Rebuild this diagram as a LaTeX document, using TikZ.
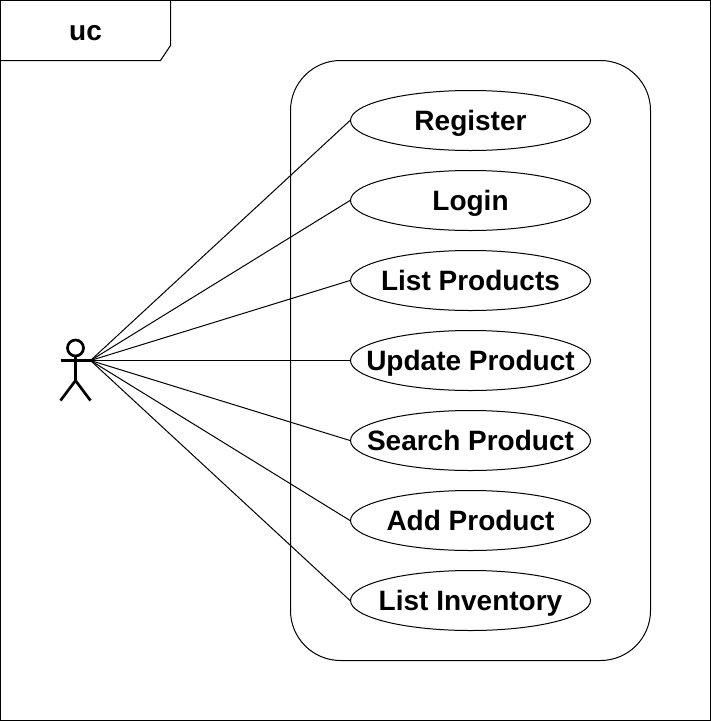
\documentclass[tikz,border=0pt]{standalone}
\usepackage{fontspec}
\setmainfont{Liberation Sans}
\usetikzlibrary{shapes.geometric}
\newcommand{\uclabel}[1]{\makebox[0pt][c]{#1}}
\tikzset{
  labelfont/.style={font=\fontsize{28pt}{32pt}\selectfont\bfseries,text=black,text height=26pt,text depth=6pt},
  usecase/.style={draw=black,ellipse,inner sep=0pt,minimum width=240pt,minimum height=60pt,labelfont,line width=1pt},
  thinline/.style={draw=black,line width=1pt},
  actorline/.style={draw=black,line width=2.7pt},
}
\begin{document}
\begin{tikzpicture}[x=1pt,y=-1pt]
\useasboundingbox (0,0) rectangle (711,721);
\draw[thinline] (0.5,0.5) rectangle (710.5,720.5);
\draw[thinline] (0.5,60.5) -- (160.5,60.5) -- (170.5,45.5) -- (170.5,0.5);
\node[labelfont,inner sep=0pt] (uc) at (85.5,30.5) {uc};
\draw[thinline,rounded corners=50pt] (290.5,60.5) rectangle (650.5,660.5);
\node[usecase] (u1) at (470.5,120.5) {\uclabel{Register}};
\node[usecase] (u2) at (470.5,200.5) {\uclabel{Login}};
\node[usecase] (u3) at (470.5,280.5) {\uclabel{List Products}};
\node[usecase] (u4) at (470.5,360.5) {\uclabel{Update Product}};
\node[usecase] (u5) at (470.5,440.5) {\uclabel{Search Product}};
\node[usecase] (u6) at (470.5,520.5) {\uclabel{Add Product}};
\node[usecase] (u7) at (470.5,600.5) {\uclabel{List Inventory}};
\node[draw=black,circle,line width=2.7pt,inner sep=0pt,minimum size=16pt] (head) at (75.5,348) {};
\coordinate (hand) at (90.5,360.5);
\coordinate (handl) at (60.5,360.5);
\coordinate (hip) at (75.5,380.5);
\coordinate (footl) at (60.5,400.5);
\coordinate (footr) at (90.5,400.5);
\draw[actorline] (head.south) -- (hip);
\draw[actorline] (handl) -- (hand);
\draw[actorline] (footl) -- (hip) -- (footr);
\foreach \n in {u1,u2,u3,u4,u5,u6,u7} \draw[thinline] (hand) -- (\n.west);
\end{tikzpicture}
\end{document}
